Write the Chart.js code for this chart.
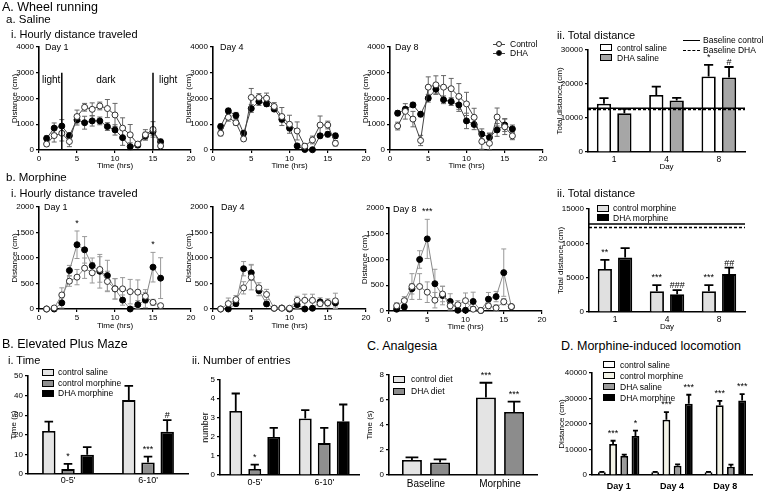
<!DOCTYPE html>
<html>
<head>
<meta charset="utf-8">
<title>Wheel running, EPM, analgesia, locomotion</title>
<script src="https://cdn.jsdelivr.net/npm/chart.js@4.4.1/dist/chart.umd.min.js"></script>
<style>
  body { margin: 0; background: #fff; }
  #fig { position: relative; width: 767px; height: 491px; overflow: hidden; font-family: "Liberation Sans", Arial, sans-serif; color: #000; }
  #fig canvas { position: absolute; }
  .t { position: absolute; white-space: nowrap; line-height: 1; }
  .big { font-size: 12.5px; }
  .mid { font-size: 11.5px; }
  .sm { font-size: 11px; }
  .lg { font-size: 8.5px; }
  .day { font-size: 9px; }
  .box { position: absolute; width: 10px; height: 5px; border: 1.5px solid #000; }
  .ln { position: absolute; height: 0; border-top: 1px solid #444; }
  .dot { position: absolute; width: 6px; height: 6px; border-radius: 50%; border: 1px solid #222; box-sizing: border-box; }
</style>
</head>
<body>
<div id="fig">
  <div class="t big" style="left:2px;top:1px">A. Wheel running</div>
  <div class="t mid" style="left:6px;top:14px">a. Saline</div>
  <div class="t sm" style="left:11px;top:29px">i. Hourly distance traveled</div>
  <div class="t day" style="left:45px;top:43px">Day 1</div>
  <div class="t day" style="left:220px;top:43px">Day 4</div>
  <div class="t day" style="left:395px;top:43px">Day 8</div>

  <div class="ln" style="left:493px;top:44px;width:12px"></div>
  <div class="dot" style="left:496px;top:41px;background:#fff"></div>
  <div class="t lg" style="left:510px;top:40px">Control</div>
  <div class="ln" style="left:493px;top:53px;width:12px"></div>
  <div class="dot" style="left:496px;top:50px;background:#000"></div>
  <div class="t lg" style="left:510px;top:49px">DHA</div>

  <div class="t sm" style="left:557px;top:30px">ii. Total distance</div>
  <div class="box" style="left:600px;top:44px;background:#fff"></div>
  <div class="t lg" style="left:617px;top:44px">control saline</div>
  <div class="box" style="left:600px;top:54px;background:#a6a6a6"></div>
  <div class="t lg" style="left:617px;top:54px">DHA saline</div>
  <div style="position:absolute;left:683px;top:40px;width:17px;border-top:1.5px solid #000"></div>
  <div class="t lg" style="left:703px;top:36px">Baseline control</div>
  <div style="position:absolute;left:683px;top:50px;width:17px;border-top:1.5px dashed #000"></div>
  <div class="t lg" style="left:703px;top:46px">Baseline DHA</div>

  <div class="t mid" style="left:6px;top:172px">b. Morphine</div>
  <div class="t sm" style="left:11px;top:188px">i. Hourly distance traveled</div>
  <div class="t day" style="left:44px;top:203px">Day 1</div>
  <div class="t day" style="left:221px;top:203px">Day 4</div>
  <div class="t day" style="left:393px;top:205px">Day 8</div>

  <div class="t sm" style="left:557px;top:188px">ii. Total distance</div>
  <div class="box" style="left:597px;top:205px;background:#e0e0e0"></div>
  <div class="t lg" style="left:613px;top:204px">control morphine</div>
  <div class="box" style="left:597px;top:214px;background:#000"></div>
  <div class="t lg" style="left:613px;top:214px">DHA morphine</div>

  <div class="t big" style="left:2px;top:338px">B. Elevated Plus Maze</div>
  <div class="t sm" style="left:8px;top:355px">i. Time</div>
  <div class="t sm" style="left:192px;top:355px">ii. Number of entries</div>
  <div class="box" style="left:42px;top:369px;background:#e4e4e4"></div>
  <div class="t lg" style="left:58px;top:368px">control saline</div>
  <div class="box" style="left:42px;top:380px;background:#8f8f8f"></div>
  <div class="t lg" style="left:58px;top:379px">control morphine</div>
  <div class="box" style="left:42px;top:390px;background:#000"></div>
  <div class="t lg" style="left:58px;top:389px">DHA morphine</div>

  <div class="t big" style="left:367px;top:340px">C. Analgesia</div>
  <div class="box" style="left:393px;top:376px;background:#e4e4e4"></div>
  <div class="t lg" style="left:411px;top:375px">control diet</div>
  <div class="box" style="left:393px;top:388px;background:#8c8c8c"></div>
  <div class="t lg" style="left:411px;top:387px">DHA diet</div>

  <div class="t big" style="left:561px;top:340px">D. Morphine-induced locomotion</div>
  <div class="box" style="left:603px;top:361px;background:#fff"></div>
  <div class="t lg" style="left:620px;top:361px">control saline</div>
  <div class="box" style="left:603px;top:372px;background:#f2f2e6"></div>
  <div class="t lg" style="left:620px;top:372px">control morphine</div>
  <div class="box" style="left:603px;top:383px;background:#9a9a9a"></div>
  <div class="t lg" style="left:620px;top:383px">DHA saline</div>
  <div class="box" style="left:603px;top:394px;background:#000"></div>
  <div class="t lg" style="left:620px;top:394px">DHA morphine</div>
</div>

<script>
// hourly wheel running, hours 1-16
const hours = [1, 2, 3, 4, 5, 6, 7, 8, 9, 10, 11, 12, 13, 14, 15, 16];

// saline, day 1
const salD1Ctl    = [230, 560, 650, 330, 1300, 1660, 1580, 1710, 1610, 1360, 850, 590, 230, 590, 800, 160];
const salD1CtlErr = [80, 250, 300, 200, 250, 150, 250, 150, 350, 450, 400, 400, 100, 200, 300, 100];
const salD1Dha    = [450, 850, 930, 560, 1170, 1060, 1130, 1130, 910, 780, 480, 130, 190, 540, 720, 320];
const salD1DhaErr = [100, 200, 250, 100, 200, 250, 200, 150, 150, 200, 300, 150, 100, 150, 150, 100];
// saline, day 4
const salD4Ctl    = [650, 1270, 1060, 430, 2040, 2040, 2010, 1690, 1300, 1000, 740, 150, 390, 970, 970, 260];
const salD4CtlErr = [100, 150, 100, 80, 350, 150, 200, 150, 350, 350, 350, 100, 150, 350, 150, 100];
const salD4Dha    = [910, 1520, 1340, 650, 1610, 1880, 1790, 1590, 1190, 850, 160, 20, 10, 550, 610, 550];
const salD4DhaErr = [100, 100, 120, 100, 150, 150, 100, 100, 100, 100, 80, 20, 20, 80, 100, 100];
// saline, day 8
const salD8Ctl    = [930, 1500, 1200, 370, 2440, 2530, 2440, 2380, 2080, 1790, 1270, 330, 260, 1280, 900, 550];
const salD8CtlErr = [150, 300, 300, 200, 400, 350, 450, 400, 500, 450, 350, 300, 400, 350, 300, 150];
const salD8Dha    = [1430, 1580, 1750, 1390, 2010, 2360, 1950, 1880, 1750, 1130, 990, 620, 490, 780, 970, 820];
const salD8DhaErr = [100, 100, 100, 100, 150, 200, 150, 150, 250, 300, 200, 200, 150, 250, 250, 150];

// light / dark markers on saline day 1
const phaseHours = [3, 15];
const phaseTop = 3000;
const phaseText = ['light', 'dark', 'light'];
const phaseTextX = [1.6, 8.8, 17];
const phaseTextY = 2720;

// morphine, day 1
const morD1Ctl      = [0, 20, 275, 545, 625, 800, 710, 775, 540, 395, 395, 340, 330, 250, 130, 65];
const morD1CtlErr   = [0, 30, 140, 100, 150, 200, 200, 250, 200, 200, 220, 240, 240, 130, 60, 30];
const morD1Dha      = [0, 0, 120, 755, 1260, 1160, 850, 740, 655, 395, 175, 0, 85, 175, 820, 605];
const morD1DhaErr   = [0, 0, 100, 100, 270, 260, 150, 330, 300, 200, 100, 0, 80, 150, 290, 400];
const morD1DhaMarks = ['', '', '', '', '*', '', '', '', '', '', '', '', '', '', '*', ''];
// morphine, day 4
const morD4Ctl    = [0, 105, 185, 415, 625, 415, 285, 15, 15, 15, 170, 170, 170, 105, 120, 160];
const morD4CtlErr = [0, 110, 80, 120, 250, 100, 100, 20, 20, 20, 80, 120, 120, 60, 50, 150];
const morD4Dha    = [0, 0, 105, 790, 710, 360, 100, 15, 20, 0, 85, 0, 15, 140, 120, 120];
const morD4DhaErr = [0, 0, 50, 140, 150, 100, 50, 20, 20, 10, 80, 0, 20, 80, 80, 80];
// morphine, day 8
const morD8Ctl      = [100, 200, 475, 475, 365, 210, 330, 100, 120, 200, 35, 10, 100, 60, 180, 85];
const morD8CtlErr   = [60, 80, 250, 250, 200, 150, 150, 80, 80, 150, 50, 10, 60, 60, 60, 20];
const morD8Dha      = [35, 80, 430, 1000, 1400, 530, 300, 185, 15, 15, 185, 10, 230, 280, 745, 85];
const morD8DhaErr   = [30, 50, 100, 170, 380, 280, 180, 150, 20, 20, 180, 10, 130, 100, 460, 20];
const morD8DhaMarks = ['', '', '', '', '***', '', '', '', '', '', '', '', '', '', '', ''];

// total distance
const dayCats = ['1', '4', '8'];
const totSalCtl = [14170, 16800, 22190], totSalCtlErr = [1660, 2440, 3420], totSalCtlMarks = ['', '', '*'];
const totSalDha = [11430, 15150, 21900], totSalDhaErr = [1270, 780, 3100], totSalDhaMarks = ['', '', '#'];
const totMorCtl = [6260, 3030, 3030], totMorCtlErr = [1320, 880, 880], totMorCtlMarks = ['**', '***', '***'];
const totMorDha = [7920, 2590, 5520], totMorDhaErr = [1370, 590, 930], totMorDhaMarks = ['', '###', '##'];
const baselineSal = [12900, 12500];   // control (solid), DHA (dashed)
const baselineMor = [12800, 12310];

// elevated plus maze
const epmCats = ["0-5'", "6-10'"];
const epmTimeSal = [22, 37.7], epmTimeSalErr = [4.7, 7.3];
const epmTimeMor = [2.5, 5.9], epmTimeMorErr = [2.7, 3], epmTimeMorMarks = ['*', '***'];
const epmTimeDha = [9.8, 21.6], epmTimeDhaErr = [3.9, 5.9], epmTimeDhaMarks = ['', '#'];
const epmEntSal = [3.37, 2.97], epmEntSalErr = [0.92, 0.44];
const epmEntMor = [0.32, 1.68], epmEntMorErr = [0.23, 0.8], epmEntMorMarks = ['*', ''];
const epmEntDha = [2.0, 2.83], epmEntDhaErr = [0.48, 0.88];

// analgesia
const anaCats = ['Baseline', 'Morphine'];
const anaCtl = [1.2, 6.21], anaCtlErr = [0.21, 1.17], anaCtlMarks = ['', '***'];
const anaDha = [1.01, 5.04], anaDhaErr = [0.24, 0.83], anaDhaMarks = ['', '***'];

// morphine-induced locomotion
const locCats = ['Day 1', 'Day 4', 'Day 8'];
const locCtlSal = [1050, 1050, 1050], locCtlSalErr = [200, 200, 200];
const locCtlMor = [12130, 21640, 27400], locCtlMorErr = [1300, 3000, 1700], locCtlMorMarks = ['***', '***', '***'];
const locDhaSal = [7480, 3670, 3280], locDhaSalErr = [500, 500, 800];
const locDhaMor = [15340, 27930, 29240], locDhaMorErr = [2100, 3540, 2500], locDhaMorMarks = ['*', '***', '***'];

Chart.defaults.font.family = '"Liberation Sans", Arial, sans-serif';
Chart.defaults.color = '#000';
Chart.defaults.animation = false;

const fig = document.getElementById('fig');
const plain = v => String(v);

// error bars read from dataset.err
function drawErrors(chart, wantBars) {
    const ctx = chart.ctx, ys = chart.scales.y;
    chart.data.datasets.forEach((ds, i) => {
        if (!ds.err) return;
        const meta = chart.getDatasetMeta(i);
        const isBar = meta.type === 'bar';
        if (isBar !== wantBars) return;
        ctx.save();
        ctx.strokeStyle = ds.errColor || '#000';
        ctx.lineWidth = ds.errWidth || 1.8;
        meta.data.forEach((el, j) => {
            const raw = ds.data[j];
            const v = typeof raw === 'object' ? raw.y : raw;
            const e = ds.err[j];
            if (!e) return;
            const top = ys.getPixelForValue(v + e);
            const bot = isBar ? el.y : ys.getPixelForValue(Math.max(0, v - e));
            const cap = isBar ? el.width * 0.32 : 2.5;
            ctx.beginPath();
            ctx.moveTo(el.x, bot); ctx.lineTo(el.x, top);
            ctx.moveTo(el.x - cap, top); ctx.lineTo(el.x + cap, top);
            if (!isBar) { ctx.moveTo(el.x - cap, bot); ctx.lineTo(el.x + cap, bot); }
            ctx.stroke();
        });
        ctx.restore();
    });
}

// significance marks read from dataset.marks
function drawMarks(chart) {
    const ctx = chart.ctx, ys = chart.scales.y;
    chart.data.datasets.forEach((ds, i) => {
        if (!ds.marks) return;
        const meta = chart.getDatasetMeta(i);
        ctx.save();
        ctx.fillStyle = '#000';
        ctx.font = '9px "Liberation Sans", Arial, sans-serif';
        ctx.textAlign = 'center';
        ctx.textBaseline = 'bottom';
        meta.data.forEach((el, j) => {
            if (!ds.marks[j]) return;
            const raw = ds.data[j];
            const v = typeof raw === 'object' ? raw.y : raw;
            const top = ys.getPixelForValue(v + (ds.err ? ds.err[j] : 0));
            const up = ds.marks[j].indexOf('#') >= 0 ? 1 : -2;
            ctx.fillText(ds.marks[j], el.x, top - 1 + up);
        });
        ctx.restore();
    });
}

const errorBars = {
    id: 'errorBars',
    beforeDatasetsDraw(chart) { drawErrors(chart, false); },
    afterDatasetsDraw(chart) { drawErrors(chart, true); drawMarks(chart); }
};

const phasePlugin = {
    id: 'phase',
    afterDatasetsDraw(chart) {
        const ctx = chart.ctx, xs = chart.scales.x, ys = chart.scales.y;
        ctx.save();
        ctx.strokeStyle = '#000';
        ctx.lineWidth = 1.5;
        phaseHours.forEach(h => {
            ctx.beginPath();
            ctx.moveTo(xs.getPixelForValue(h), ys.getPixelForValue(0));
            ctx.lineTo(xs.getPixelForValue(h), ys.getPixelForValue(phaseTop));
            ctx.stroke();
        });
        ctx.fillStyle = '#000';
        ctx.font = '10px "Liberation Sans", Arial, sans-serif';
        ctx.textAlign = 'center';
        ctx.textBaseline = 'middle';
        phaseText.forEach((s, k) => ctx.fillText(s, xs.getPixelForValue(phaseTextX[k]), ys.getPixelForValue(phaseTextY)));
        ctx.restore();
    }
};

function baselines(vals) {
    return {
        id: 'baselines',
        afterDatasetsDraw(chart) {
            const ctx = chart.ctx, a = chart.chartArea, ys = chart.scales.y;
            ctx.save();
            ctx.strokeStyle = '#000';
            ctx.lineWidth = 1.5;
            vals.forEach((v, k) => {
                ctx.setLineDash(k === 0 ? [] : [3, 2]);
                ctx.beginPath();
                ctx.moveTo(a.left, ys.getPixelForValue(v));
                ctx.lineTo(a.right, ys.getPixelForValue(v));
                ctx.stroke();
            });
            ctx.restore();
        }
    };
}

// put a chart so its plot area lands on box [left, top, right, bottom] of the page
function place(box, cfg) {
    const tp = 8, rp = 10;
    const cv = document.createElement('canvas');
    const w = box.r - box.l + box.yw + rp, h = box.b - box.t + tp + box.xh;
    cv.width = w; cv.height = h;
    cv.style.width = w + 'px'; cv.style.height = h + 'px';
    cv.style.left = (box.l - box.yw) + 'px';
    cv.style.top = (box.t - tp) + 'px';
    fig.insertBefore(cv, fig.firstChild);
    const o = cfg.options;
    o.responsive = false;
    o.devicePixelRatio = 1;
    o.events = [];
    o.layout = { padding: { top: tp, right: rp, left: 0, bottom: 0 } };
    o.plugins = { legend: { display: false }, tooltip: { enabled: false } };
    o.scales.x.afterFit = s => { s.height = box.xh; };
    o.scales.y.afterFit = s => { s.width = box.yw; };
    cfg.plugins = [errorBars].concat(cfg.plugins || []);
    return new Chart(cv, cfg);
}

function yScale(max, step, title, size) {
    return {
        min: 0, max: max,
        ticks: { stepSize: step, font: { size: 8 }, padding: 2, callback: plain },
        grid: { drawOnChartArea: false, tickLength: 3, color: '#000', lineWidth: 1.2 },
        border: { color: '#000', width: 1.6 },
        title: { display: true, text: title, font: { size: size || 8 }, padding: 0 }
    };
}

function timeScale() {
    return {
        type: 'linear', min: 0, max: 20,
        ticks: { stepSize: 5, font: { size: 8 }, padding: 1, callback: plain },
        grid: { drawOnChartArea: false, tickLength: 3, color: '#000', lineWidth: 1.2 },
        border: { color: '#000', width: 1.6 },
        title: { display: true, text: 'Time (hrs)', font: { size: 8 }, padding: 0 }
    };
}

function catScale(font, pad, title) {
    return {
        grid: { display: false, drawTicks: false },
        border: { color: '#000', width: 1.6 },
        ticks: { font: font, padding: pad },
        title: { display: !!title, text: title || '', font: { size: 8 }, padding: 0 }
    };
}

const xy = vals => vals.map((v, i) => ({ x: hours[i], y: v }));

function hourly(box, yMax, yStep, ctl, ctlErr, dha, dhaErr, dhaMarks, grey, extra) {
    const lc = grey ? '#888' : '#444';
    const ec = grey ? '#999' : '#666';
    return place(box, {
        type: 'line',
        data: { datasets: [
            { data: xy(ctl), err: ctlErr, errColor: ec, errWidth: 1, borderColor: lc, borderWidth: 1,
              pointRadius: 3, pointBackgroundColor: '#fff', pointBorderColor: '#333', pointBorderWidth: 1, clip: false },
            { data: xy(dha), err: dhaErr, marks: dhaMarks, errColor: ec, errWidth: 1, borderColor: lc, borderWidth: 1,
              pointRadius: 3, pointBackgroundColor: '#000', pointBorderColor: '#000', pointBorderWidth: 1, clip: false }
        ] },
        options: { scales: { x: timeScale(), y: yScale(yMax, yStep, 'Distance (cm)') } },
        plugins: extra || []
    });
}

function bar(data, err, marks, color, catPct, barPct) {
    return { data: data, err: err, marks: marks, backgroundColor: color, borderColor: '#000', borderWidth: 1.8,
             borderSkipped: 'start', categoryPercentage: catPct, barPercentage: barPct };
}

// A.a saline hourly
hourly({ l: 39, t: 47, r: 191, b: 150, yw: 29, xh: 21 }, 4000, 1000, salD1Ctl, salD1CtlErr, salD1Dha, salD1DhaErr, null, false, [phasePlugin]);
hourly({ l: 213, t: 47, r: 366, b: 150, yw: 29, xh: 21 }, 4000, 1000, salD4Ctl, salD4CtlErr, salD4Dha, salD4DhaErr, null, false);
hourly({ l: 390, t: 47, r: 543, b: 150, yw: 29, xh: 21 }, 4000, 1000, salD8Ctl, salD8CtlErr, salD8Dha, salD8DhaErr, null, false);

// A.b morphine hourly
hourly({ l: 39, t: 207, r: 191, b: 309, yw: 29, xh: 22 }, 2000, 500, morD1Ctl, morD1CtlErr, morD1Dha, morD1DhaErr, morD1DhaMarks, true);
hourly({ l: 213, t: 207, r: 366, b: 309, yw: 29, xh: 22 }, 2000, 500, morD4Ctl, morD4CtlErr, morD4Dha, morD4DhaErr, null, true);
hourly({ l: 389, t: 208, r: 542, b: 311, yw: 29, xh: 21 }, 2000, 500, morD8Ctl, morD8CtlErr, morD8Dha, morD8DhaErr, morD8DhaMarks, true);

// A total distance, saline
place({ l: 588, t: 50, r: 745, b: 152, yw: 33, xh: 20 }, {
    type: 'bar',
    data: { labels: dayCats, datasets: [
        bar(totSalCtl, totSalCtlErr, totSalCtlMarks, '#fff', 0.78, 0.7),
        bar(totSalDha, totSalDhaErr, totSalDhaMarks, '#a6a6a6', 0.78, 0.7)
    ] },
    options: { scales: { x: catScale({ size: 8.5 }, 3, 'Day'), y: yScale(30000, 10000, 'Total distance (cm)') } },
    plugins: [baselines(baselineSal)]
});

// A total distance, morphine
place({ l: 589, t: 209, r: 745, b: 312, yw: 33, xh: 20 }, {
    type: 'bar',
    data: { labels: dayCats, datasets: [
        bar(totMorCtl, totMorCtlErr, totMorCtlMarks, '#e0e0e0', 0.78, 0.7),
        bar(totMorDha, totMorDhaErr, totMorDhaMarks, '#000', 0.78, 0.7)
    ] },
    options: { scales: { x: catScale({ size: 8.5 }, 3, 'Day'), y: yScale(15000, 5000, 'Total distance (cm)') } },
    plugins: [baselines(baselineMor)]
});

// B.i EPM time
place({ l: 28, t: 376, r: 188, b: 474, yw: 19, xh: 16 }, {
    type: 'bar',
    data: { labels: epmCats, datasets: [
        bar(epmTimeSal, epmTimeSalErr, null, '#e4e4e4', 0.72, 0.7),
        bar(epmTimeMor, epmTimeMorErr, epmTimeMorMarks, '#8f8f8f', 0.72, 0.7),
        bar(epmTimeDha, epmTimeDhaErr, epmTimeDhaMarks, '#000', 0.72, 0.7)
    ] },
    options: { scales: { x: catScale({ size: 9 }, 1), y: yScale(50, 10, 'Time (s)') } }
});

// B.ii EPM entries
place({ l: 220, t: 380, r: 359, b: 475, yw: 20, xh: 16 }, {
    type: 'bar',
    data: { labels: epmCats, datasets: [
        bar(epmEntSal, epmEntSalErr, null, '#e4e4e4', 0.82, 0.68),
        bar(epmEntMor, epmEntMorErr, epmEntMorMarks, '#8f8f8f', 0.82, 0.68),
        bar(epmEntDha, epmEntDhaErr, null, '#000', 0.82, 0.68)
    ] },
    options: { scales: { x: catScale({ size: 9 }, 2), y: yScale(5, 1, 'number', 9) } }
});

// C analgesia
place({ l: 389, t: 375, r: 537, b: 475, yw: 24, xh: 16 }, {
    type: 'bar',
    data: { labels: anaCats, datasets: [
        bar(anaCtl, anaCtlErr, anaCtlMarks, '#e4e4e4', 0.76, 0.71),
        bar(anaDha, anaDhaErr, anaDhaMarks, '#8c8c8c', 0.76, 0.71)
    ] },
    options: { scales: { x: catScale({ size: 10 }, 3), y: yScale(8, 2, 'Time (s)') } }
});

// D morphine-induced locomotion
place({ l: 592, t: 373, r: 752, b: 475, yw: 35, xh: 16 }, {
    type: 'bar',
    data: { labels: locCats, datasets: [
        bar(locCtlSal, locCtlSalErr, null, '#fff', 0.84, 0.7),
        bar(locCtlMor, locCtlMorErr, locCtlMorMarks, '#f2f2e6', 0.84, 0.7),
        bar(locDhaSal, locDhaSalErr, null, '#9a9a9a', 0.84, 0.7),
        bar(locDhaMor, locDhaMorErr, locDhaMorMarks, '#000', 0.84, 0.7)
    ] },
    options: { scales: { x: catScale({ size: 9, weight: 'bold' }, 6), y: yScale(40000, 10000, 'Distance (cm)') } }
});
</script>
</body>
</html>
